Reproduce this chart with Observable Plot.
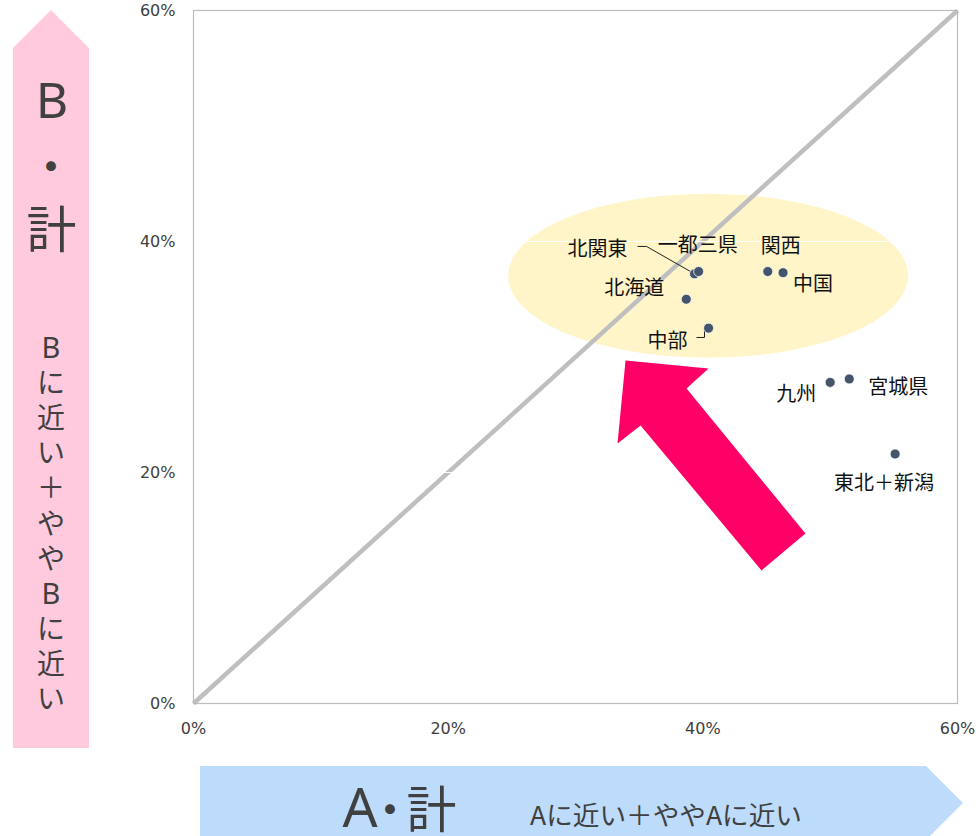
<!DOCTYPE html>
<html>
<head>
<meta charset="utf-8">
<script src="https://cdn.jsdelivr.net/npm/d3@7"></script>
<script src="https://cdn.jsdelivr.net/npm/@observablehq/plot@0.6"></script>
<style>
  html, body { margin: 0; padding: 0; background: #fff; }
  #chart { width: 979px; height: 836px; overflow: hidden; }
</style>
</head>
<body>
<div id="chart"></div>
<script>
// Regional shares: A・計 (x) against B・計 (y), in percent
const regions = ["北関東", "一都三県", "北海道", "中部", "関西", "中国", "九州", "宮城県", "東北＋新潟"];
const shareA  = [39.35, 39.67, 38.7, 40.45, 45.1, 46.3, 50.0, 51.5, 55.1];
const shareB  = [37.2, 37.4, 35.0, 32.5, 37.4, 37.3, 27.8, 28.1, 21.6];

// Axis ticks (percent)
const tickValues = [0, 20, 40, 60];
const axisDomain = [0, 60];

// Banner wording
const yTitle = ["B", "・", "計"];
const yNote = ["B", "に", "近", "い", "＋", "や", "や", "B", "に", "近", "い"];
const xTitle = ["A", "・", "計"];
const xNote = "Aに近い＋ややAに近い";

// Highlighted cluster (data units)
const cluster = {cx: 40.45, cy: 37.0, rx: 15.7, ry: 7.1};

// Emphasis arrow outline (data units)
const arrowOutline = [
  {a: 33.93, b: 29.70}, {a: 40.45, b: 29.00}, {a: 38.72, b: 27.27},
  {a: 48.06, b: 14.72}, {a: 44.61, b: 11.52}, {a: 35.11, b: 24.07},
  {a: 33.30, b: 22.51}
];

const points = regions.map((name, i) => ({name, a: shareA[i], b: shareB[i]}));
const byName = Object.fromEntries(points.map(d => [d.name, d]));

// Leader lines from labels to crowded points
const leaders = [
  [{a: 34.87, b: 39.57}, {a: 35.58, b: 39.57}, byName["北関東"]],
  [{a: 39.50, b: 31.69}, {a: 40.13, b: 31.69}, {a: 40.13, b: 32.29}]
];

// Label placement (pixel offsets from each point)
const labelOffset = {
  "北関東": [-97, -24], "一都三県": [-1, -26], "北海道": [-52, -11],
  "中部": [-41, 13], "関西": [13, -25], "中国": [30, 12],
  "九州": [-34, 12], "宮城県": [49, 9], "東北＋新潟": [-11, 30]
};

const ink = "#404040";
const cjk = "'Noto Sans CJK JP', 'Noto Sans', sans-serif";
const latin = "'Noto Sans', 'DejaVu Sans', sans-serif";
const isLatin = ch => /[A-Za-z]/.test(ch);

// Side banners: pink up-arrow for B, blue right-arrow for A
function banners(index, scales, values, dims) {
  const g = d3.create("svg:g");
  const top = dims.marginTop;
  const left = dims.marginLeft;

  // pink vertical banner
  g.append("polygon")
    .attr("points", [[13, top + 38], [51, top], [89, top + 38], [89, 748], [13, 748]].join(" "))
    .attr("fill", "#ffcadd");
  const yT = g.append("text").attr("font-family", cjk);
  const yTitlePos = [[52, 98.5, 50], [51, 163, 46], [51.5, 225.5, 50]];
  yTitle.forEach((ch, i) => {
    const [x, y, s] = yTitlePos[i];
    yT.append("tspan").text(ch).attr("x", x).attr("y", y).attr("font-size", s)
      .attr("font-family", isLatin(ch) ? latin : cjk);
  });
  const yN = g.append("text").attr("font-family", cjk);
  yNote.forEach((ch, i) => {
    yN.append("tspan").text(ch).attr("x", 51).attr("y", 346 + i * 35.1)
      .attr("font-family", isLatin(ch) ? latin : cjk)
      .attr("font-size", isLatin(ch) ? 29 : 28);
  });

  // blue horizontal banner
  const bx = left + 7, by = 766;
  g.append("polygon")
    .attr("points", [[bx, by], [926, by], [963, by + 37], [926, by + 74], [bx, by + 74]].join(" "))
    .attr("fill", "#bddcfb");
  const xT = g.append("text").attr("font-family", cjk);
  const xTitlePos = [[360, 805, 55], [390, 806, 46], [431.5, 805.5, 50]];
  xTitle.forEach((ch, i) => {
    const [x, y, s] = xTitlePos[i];
    xT.append("tspan").text(ch).attr("x", x).attr("y", y).attr("font-size", s)
      .attr("font-family", isLatin(ch) ? latin : cjk);
  });
  g.append("text").text(xNote).attr("x", 530).attr("y", 813)
    .attr("text-anchor", "start")
    .attr("font-family", cjk).attr("font-size", 26)
    .attr("textLength", 272).attr("lengthAdjust", "spacingAndGlyphs");

  g.selectAll("text")
    .attr("fill", ink)
    .attr("dominant-baseline", "central")
    .filter(function () { return !this.getAttribute("text-anchor"); })
    .attr("text-anchor", "middle");
  return g.node();
}

// Shaded ellipse around the cluster of regions
function clusterEllipse(index, scales) {
  const {x, y} = scales;
  return d3.create("svg:ellipse")
    .attr("cx", x(cluster.cx))
    .attr("cy", y(cluster.cy))
    .attr("rx", Math.abs(x(cluster.cx + cluster.rx) - x(cluster.cx)))
    .attr("ry", Math.abs(y(cluster.cy + cluster.ry) - y(cluster.cy)))
    .attr("fill", "#fff5c9")
    .node();
}

const labelMarks = points.map(d => {
  const [dx, dy] = labelOffset[d.name];
  return Plot.text([d], {
    x: "a", y: "b", text: "name", dx, dy,
    fontFamily: cjk, fontSize: 20, fill: "#111", lineAnchor: "middle",
    style: "letter-spacing: 0.5px"
  });
});

const chart = Plot.plot({
  width: 979,
  height: 836,
  marginLeft: 193,
  marginRight: 22,
  marginTop: 10,
  marginBottom: 133,
  style: {fontFamily: "'DejaVu Sans', sans-serif", fontSize: "16px", color: ink, background: "#fff", overflow: "visible"},
  x: {domain: axisDomain, ticks: tickValues, tickFormat: d => d + "%", label: null, tickSize: 0, tickPadding: 19},
  y: {domain: axisDomain, ticks: tickValues, tickFormat: d => d + "%", label: null, tickSize: 0, tickPadding: 18},
  marks: [
    banners,
    clusterEllipse,
    Plot.line(axisDomain, {x: d => d, y: d => d, stroke: "#bfbfbf", strokeWidth: 4.5, strokeLinecap: "butt"}),
    Plot.ruleY(tickValues.slice(1, -1), {stroke: "#fff", strokeWidth: 1, strokeOpacity: 0.9}),
    Plot.line(arrowOutline, {x: "a", y: "b", fill: "#ff0066", stroke: "none", curve: "linear-closed"}),
    Plot.frame({stroke: "#bcbcbc", strokeWidth: 1.2}),
    ...leaders.map(l => Plot.line(l, {x: "a", y: "b", stroke: "#222", strokeWidth: 1, strokeLinecap: "butt", strokeLinejoin: "miter"})),
    Plot.dot(points, {x: "a", y: "b", r: 5, fill: "#44546a", stroke: "#fff", strokeWidth: 0.8}),
    ...labelMarks
  ]
});

document.getElementById("chart").appendChild(chart);
</script>
</body>
</html>
